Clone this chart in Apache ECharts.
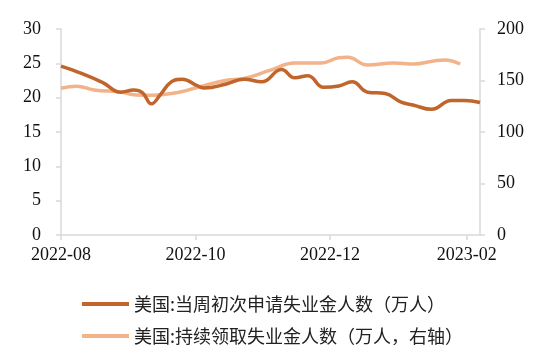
<!DOCTYPE html>
<html><head><meta charset="utf-8">
<script src="https://cdn.jsdelivr.net/npm/echarts@6/dist/echarts.min.js"></script>
<style>html,body{margin:0;padding:0;background:#fff}#c{width:550px;height:356px}</style>
</head><body><div id="c"></div>
<script>
const seriesNames = ['美国:当周初次申请失业金人数（万人）', '美国:持续领取失业金人数（万人，右轴）'];
const xTickDates = ['2022-08-01', '2022-10-01', '2022-12-01', '2023-02-01'];
const initialDates = ['2022-08-01','2022-08-09','2022-08-20','2022-08-28','2022-09-03','2022-09-07','2022-09-11','2022-09-15','2022-09-20','2022-09-25','2022-10-02','2022-10-05','2022-10-15','2022-10-23','2022-10-31','2022-11-09','2022-11-15','2022-11-21','2022-11-28','2022-12-05','2022-12-11','2022-12-18','2022-12-26','2023-01-02','2023-01-08','2023-01-16','2023-01-25','2023-01-31','2023-02-07'];
const initialValues = [24.6,23.7,22.2,20.8,21.1,20.7,19.1,20.4,22.3,22.7,21.7,21.4,22.0,22.7,22.3,24.1,22.9,23.2,21.5,21.7,22.3,20.8,20.6,19.4,18.9,18.3,19.6,19.6,19.3];
const continuingDates = ['2022-08-01','2022-08-08','2022-08-16','2022-08-28','2022-09-04','2022-09-12','2022-09-24','2022-10-02','2022-10-15','2022-10-23','2022-11-04','2022-11-15','2022-11-27','2022-12-05','2022-12-09','2022-12-18','2022-12-30','2023-01-08','2023-01-17','2023-01-22','2023-01-29'];
const continuingValues = [142.5,144.5,140.8,138.8,136.0,135.8,138.8,143.5,150.3,152.0,160.0,167.0,167.0,172.0,172.5,165.0,167.0,166.0,169.0,170.0,166.0];
const leftTicks = {min: 0, max: 30, interval: 5};
const rightTicks = {min: 0, max: 200, interval: 50};

const ts = d => new Date(d + 'T00:00:00Z').getTime();
const fmt = v => { const d = new Date(v); return d.getUTCFullYear() + '-' + String(d.getUTCMonth() + 1).padStart(2, '0'); };
const axisGrey = '#d9d9d9';
const serif = '"Liberation Serif", "Times New Roman", serif';

const chart = echarts.init(document.getElementById('c'), null, {renderer: 'canvas'});
chart.setOption({
  animation: false,
  backgroundColor: '#fff',
  grid: {left: 61, right: 70, top: 29, bottom: 121, containLabel: false},
  legend: {
    orient: 'vertical', left: 77, top: 290, itemWidth: 47, itemHeight: 4, itemGap: 14,
    icon: 'rect',
    textStyle: {fontFamily: '"Noto Sans CJK SC", sans-serif', fontSize: 18, color: '#222', padding: [0,0,0,0]},
    data: seriesNames
  },
  xAxis: {
    type: 'value', min: ts('2022-08-01'), max: ts('2023-02-07'),
    axisLine: {show: true, onZero: false, lineStyle: {color: axisGrey, width: 1.5}},
    axisTick: {show: true, length: 5, lineStyle: {color: axisGrey, width: 1.5}, customValues: xTickDates.map(ts)},
    axisLabel: {customValues: xTickDates.map(ts), formatter: fmt, fontFamily: serif, fontSize: 18, color: '#111', margin: 11},
    splitLine: {show: false}
  },
  yAxis: [
    {type: 'value', min: leftTicks.min, max: leftTicks.max, interval: leftTicks.interval,
     axisLine: {show: true, lineStyle: {color: axisGrey, width: 1.5}},
     axisTick: {show: true, length: 5, lineStyle: {color: axisGrey, width: 1.5}},
     axisLabel: {fontFamily: serif, fontSize: 18, color: '#111', margin: 20},
     splitLine: {show: false}},
    {type: 'value', min: rightTicks.min, max: rightTicks.max, interval: rightTicks.interval, position: 'right',
     axisLine: {show: true, lineStyle: {color: axisGrey, width: 1.5}},
     axisTick: {show: true, length: 5, lineStyle: {color: axisGrey, width: 1.5}},
     axisLabel: {fontFamily: serif, fontSize: 18, color: '#111', margin: 17},
     splitLine: {show: false}}
  ],
  series: [
    {name: seriesNames[1], type: 'line', yAxisIndex: 1, smooth: 0.45, showSymbol: false,
     lineStyle: {width: 3.5, color: '#F2B38A'}, itemStyle: {color: '#F2B38A'},
     data: continuingDates.map((d, i) => [ts(d), continuingValues[i]])},
    {name: seriesNames[0], type: 'line', yAxisIndex: 0, smooth: 0.45, showSymbol: false,
     lineStyle: {width: 3.5, color: '#C0652B'}, itemStyle: {color: '#C0652B'},
     data: initialDates.map((d, i) => [ts(d), initialValues[i]])}
  ]
});
</script></body></html>
